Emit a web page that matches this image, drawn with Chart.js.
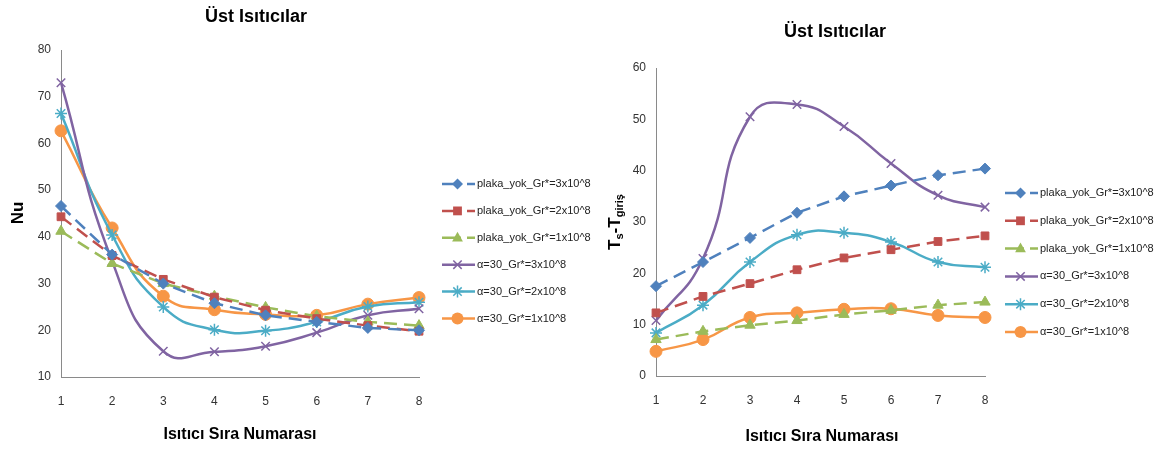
<!DOCTYPE html>
<html>
<head>
<meta charset="utf-8">
<script src="https://cdn.jsdelivr.net/npm/chart.js@4.4.0/dist/chart.umd.min.js"></script>
<style>
  html, body { margin: 0; padding: 0; background: #fff; }
  #wrap { position: relative; width: 1157px; height: 452px; overflow: hidden; }
  .box { position: absolute; top: 0; height: 452px; }
</style>
</head>
<body>
<div id="wrap">
  <div class="box" style="left:0;width:600px"><canvas id="nuChart"></canvas></div>
  <div class="box" style="left:600px;width:557px"><canvas id="dtChart"></canvas></div>
</div>
<script>
// x categories
const heaterNo = ['1', '2', '3', '4', '5', '6', '7', '8'];
const seriesNames = [
    'plaka_yok_Gr*=3x10^8',
    'plaka_yok_Gr*=2x10^8',
    'plaka_yok_Gr*=1x10^8',
    'α=30_Gr*=3x10^8',
    'α=30_Gr*=2x10^8',
    'α=30_Gr*=1x10^8'
];

// Left chart: Nu
const nuPlaka3 = [46.6, 36.2, 30.0, 25.8, 23.2, 21.8, 20.5, 20.0];
const nuPlaka2 = [44.3, 36.0, 30.9, 27.1, 24.3, 22.5, 21.0, 19.8];
const nuPlaka1 = [41.2, 34.3, 30.0, 27.3, 24.9, 23.0, 21.8, 21.0];
const nuAlfa3 = [73.0, 34.8, 15.5, 15.4, 16.6, 19.5, 23.2, 24.6];
const nuAlfa2 = [66.4, 40.4, 25.0, 20.1, 19.9, 21.8, 25.1, 26.0];
const nuAlfa1 = [62.7, 41.9, 27.3, 24.4, 23.4, 23.2, 25.6, 27.0];
const nuTicks = [10, 80];

// Right chart: Ts - Tgiris
const dtPlaka3 = [17.5, 22.2, 26.9, 31.8, 35.0, 37.1, 39.1, 40.4];
const dtPlaka2 = [12.3, 15.5, 18.0, 20.7, 23.0, 24.6, 26.2, 27.3];
const dtPlaka1 = [7.1, 8.7, 9.9, 10.8, 12.0, 12.8, 13.8, 14.4];
const dtAlfa3 = [10.8, 22.9, 50.5, 52.9, 48.6, 41.4, 35.2, 32.9];
const dtAlfa2 = [8.4, 13.8, 22.2, 27.5, 27.9, 26.1, 22.2, 21.2];
const dtAlfa1 = [4.8, 7.1, 11.4, 12.3, 13.0, 13.1, 11.8, 11.4];
const dtTicks = [0, 60];

const FONT = '"Liberation Sans", Arial, sans-serif';
const colors = ['#4F81BD', '#C0504D', '#9BBB59', '#8064A2', '#4BACC6', '#F79646'];
const markers = ['rectRot', 'rect', 'triangle', 'crossRot', 'star', 'circle'];
const radii = [5.5, 5.5, 6, 6, 6, 6];

function makeDatasets(values) {
    return values.map((v, i) => {
        const dashed = i < 3;
        return {
            label: seriesNames[i],
            data: v,
            borderColor: colors[i],
            backgroundColor: colors[i],
            borderWidth: 2.5,
            borderDash: dashed ? [13, 7] : [],
            tension: dashed ? 0 : 0.5,
            pointStyle: markers[i],
            pointRadius: radii[i],
            pointBorderColor: colors[i],
            pointBackgroundColor: colors[i],
            pointBorderWidth: (i === 3 || i === 4) ? 1.5 : 1,
            clip: false
        };
    });
}

function drawMarker(ctx, style, x, y, r, color) {
    ctx.save();
    ctx.setLineDash([]);
    ctx.fillStyle = color;
    ctx.strokeStyle = color;
    ctx.lineWidth = 1.5;
    ctx.beginPath();
    if (style === 'rectRot') {
        ctx.moveTo(x, y - r); ctx.lineTo(x + r, y); ctx.lineTo(x, y + r); ctx.lineTo(x - r, y);
        ctx.closePath(); ctx.fill();
    } else if (style === 'rect') {
        ctx.rect(x - r * 0.8, y - r * 0.8, r * 1.6, r * 1.6); ctx.fill();
    } else if (style === 'triangle') {
        ctx.moveTo(x, y - r); ctx.lineTo(x + r * 0.9, y + r * 0.6); ctx.lineTo(x - r * 0.9, y + r * 0.6);
        ctx.closePath(); ctx.fill();
    } else if (style === 'circle') {
        ctx.arc(x, y, r, 0, Math.PI * 2); ctx.fill();
    } else {
        const d = r * 0.7;
        ctx.moveTo(x - d, y - d); ctx.lineTo(x + d, y + d);
        ctx.moveTo(x + d, y - d); ctx.lineTo(x - d, y + d);
        if (style === 'star') { ctx.moveTo(x, y - r); ctx.lineTo(x, y + r); ctx.moveTo(x - r, y); ctx.lineTo(x + r, y); }
        ctx.stroke();
    }
    ctx.restore();
}

// titles, axis titles and the Excel style legend
const decor = {
    id: 'decor',
    afterDraw(chart, args, opts) {
        const ctx = chart.ctx;
        const area = chart.chartArea;
        ctx.save();
        ctx.fillStyle = '#000';
        ctx.textAlign = 'center';
        ctx.textBaseline = 'middle';
        ctx.font = 'bold 18px ' + FONT;
        ctx.fillText('Üst Isıtıcılar', opts.titleX, opts.titleY);
        ctx.font = 'bold 16px ' + FONT;
        ctx.fillText('Isıtıcı Sıra Numarası', opts.xTitleX, opts.xTitleY);

        // rotated y title
        ctx.save();
        ctx.translate(opts.yTitleX, opts.yTitleY);
        ctx.rotate(-Math.PI / 2);
        ctx.textAlign = 'left';
        const parts = opts.yTitle;
        const big = 'bold 17px ' + FONT;
        const small = 'bold 11px ' + FONT;
        let w = 0;
        parts.forEach(p => { ctx.font = p.sub ? small : big; w += ctx.measureText(p.t).width; });
        let px = -w / 2;
        parts.forEach(p => {
            ctx.font = p.sub ? small : big;
            ctx.fillText(p.t, px, p.sub ? 5 : 0);
            px += ctx.measureText(p.t).width;
        });
        ctx.restore();

        // legend
        ctx.font = '11px ' + FONT;
        ctx.textAlign = 'left';
        chart.data.datasets.forEach((ds, i) => {
            const y = opts.legendY + i * opts.legendStep;
            const x0 = area.right + opts.legendDx;
            const x1 = x0 + 33;
            ctx.strokeStyle = ds.borderColor;
            ctx.lineWidth = 2.5;
            ctx.setLineDash(ds.borderDash.length ? [19, 6] : []);
            ctx.beginPath();
            ctx.moveTo(x0, y);
            ctx.lineTo(x1, y);
            ctx.stroke();
            drawMarker(ctx, ds.pointStyle, (x0 + x1) / 2 - 1, y, ds.pointRadius, ds.borderColor);
            ctx.fillStyle = '#222';
            ctx.fillText(ds.label, x1 + 2, y);
        });
        ctx.restore();
    }
};

function axisOptions(range, yWidth, xHeight) {
    return {
        x: {
            grid: { display: false, drawTicks: false },
            border: { color: '#8a8a8a', width: 1 },
            ticks: { color: '#333', padding: 17, font: { family: FONT, size: 12 } },
            afterFit: s => { s.height = xHeight; }
        },
        y: {
            min: range[0],
            max: range[1],
            grid: { display: false, drawTicks: false },
            border: { color: '#8a8a8a', width: 1 },
            ticks: { color: '#333', padding: 10, stepSize: 10, font: { family: FONT, size: 12 } },
            afterFit: s => { s.width = yWidth; }
        }
    };
}

const nuChart = new Chart(document.getElementById('nuChart'), {
    type: 'line',
    data: {
        labels: heaterNo,
        datasets: makeDatasets([nuPlaka3, nuPlaka2, nuPlaka1, nuAlfa3, nuAlfa2, nuAlfa1])
    },
    options: {
        responsive: true,
        maintainAspectRatio: false,
        animation: false,
        layout: { padding: { top: 50, right: 181, left: 0, bottom: 0 } },
        plugins: {
            legend: { display: false },
            tooltip: { enabled: false },
            decor: {
                titleX: 256, titleY: 17,
                xTitleX: 240, xTitleY: 435,
                yTitleX: 18, yTitleY: 213,
                yTitle: [{ t: 'Nu' }],
                legendDx: 23, legendY: 184, legendStep: 26.9
            }
        },
        scales: axisOptions(nuTicks, 61, 75)
    },
    plugins: [decor]
});

const dtChart = new Chart(document.getElementById('dtChart'), {
    type: 'line',
    data: {
        labels: heaterNo,
        datasets: makeDatasets([dtPlaka3, dtPlaka2, dtPlaka1, dtAlfa3, dtAlfa2, dtAlfa1])
    },
    options: {
        responsive: true,
        maintainAspectRatio: false,
        animation: false,
        layout: { padding: { top: 68, right: 172, left: 0, bottom: 0 } },
        plugins: {
            legend: { display: false },
            tooltip: { enabled: false },
            decor: {
                titleX: 235, titleY: 32,
                xTitleX: 222, xTitleY: 437,
                yTitleX: 15, yTitleY: 222,
                yTitle: [{ t: 'T' }, { t: 's', sub: true }, { t: '-T' }, { t: 'giriş', sub: true }],
                legendDx: 20, legendY: 193, legendStep: 27.8
            }
        },
        scales: axisOptions(dtTicks, 56, 76)
    },
    plugins: [decor]
});
</script>
</body>
</html>
